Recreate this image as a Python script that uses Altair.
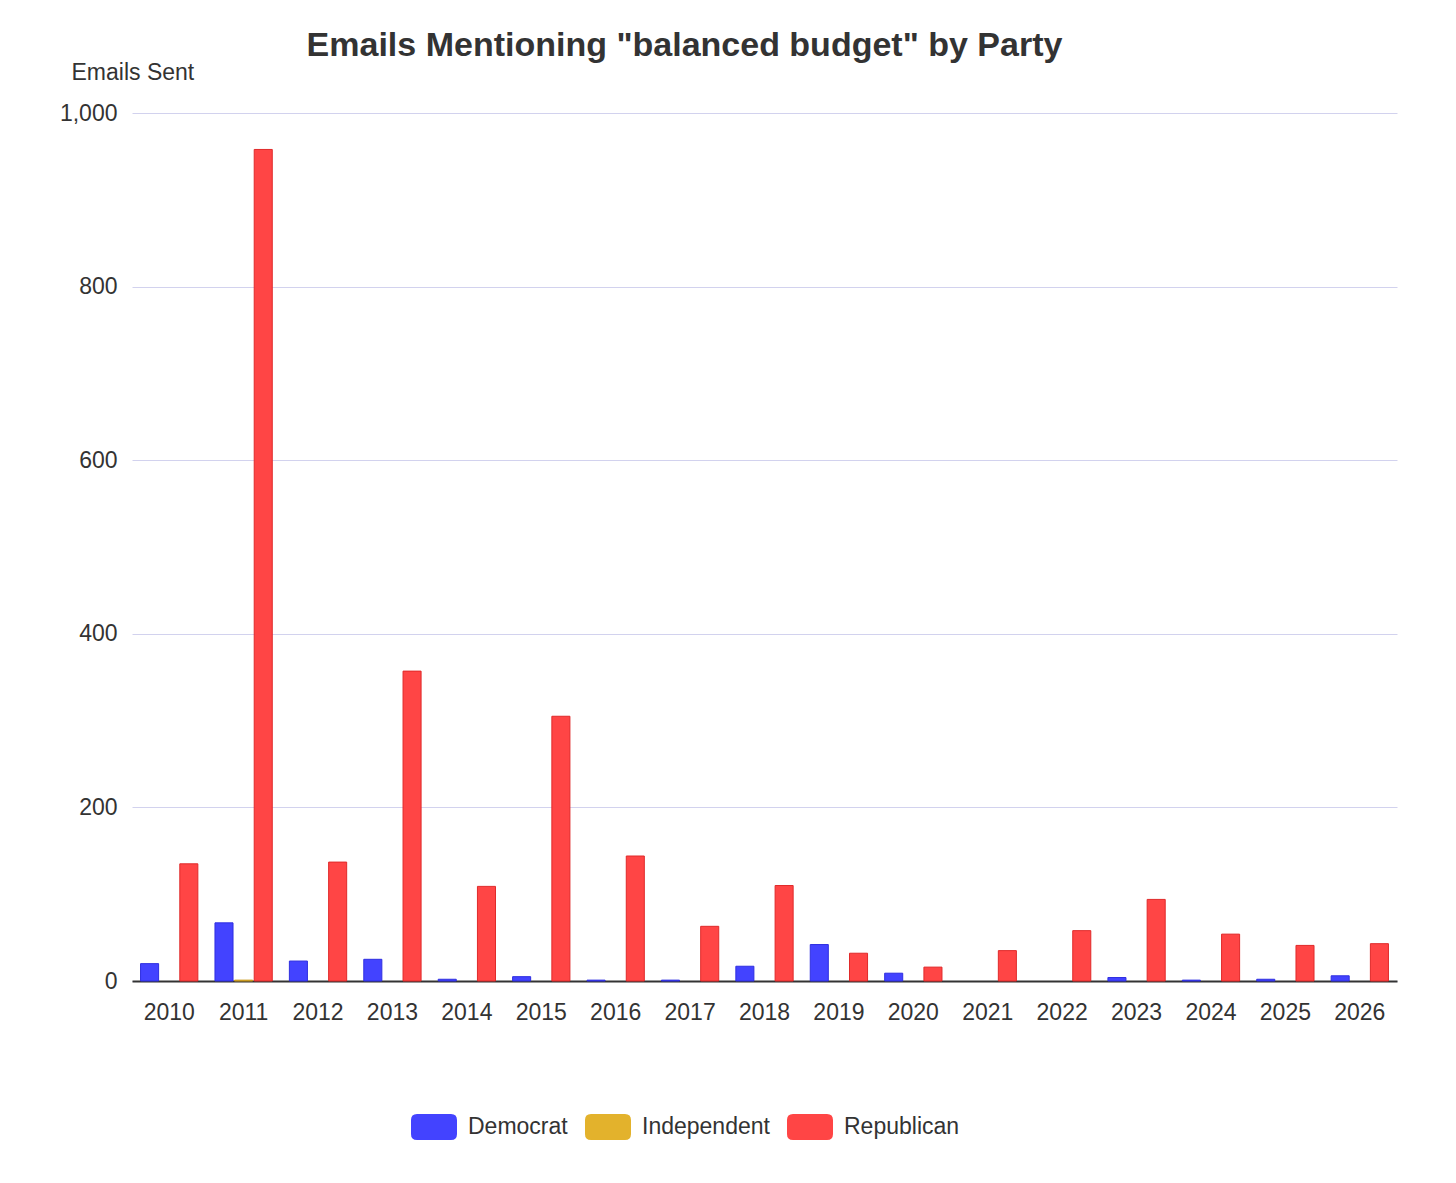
import altair as alt
import pandas as pd

years = [str(y) for y in range(2010, 2027)]
democrat = [20, 67, 23, 25, 2, 5, 1, 1, 17, 42, 9, 0, 0, 4, 1, 2, 6]
independent = [0, 1, 0, 0, 0, 0, 0, 0, 0, 0, 0, 0, 0, 0, 0, 0, 0]
republican = [135, 958, 137, 357, 109, 305, 144, 63, 110, 32, 16, 35, 58, 94, 54, 41, 43]

parties = ["Democrat", "Independent", "Republican"]
fills = ["#4343ff", "#e3b22c", "#ff4545"]
strokes = ["#2f2fe0", "#c8981c", "#e02a2a"]

rows = []
for i, y in enumerate(years):
    for p, vals in zip(parties, [democrat, independent, republican]):
        if vals[i] > 0:
            rows.append({"year": y, "party": p, "emails": vals[i]})
df = pd.DataFrame(rows)

FONT = "Liberation Sans"
TXT = "#333333"
FS = 23

rr_path = ("M -0.74 -0.565 L 0.74 -0.565 Q 1 -0.565 1 -0.3 L 1 0.3 Q 1 0.565 0.74 0.565 "
           "L -0.74 0.565 Q -1 0.565 -1 0.3 L -1 -0.3 Q -1 -0.565 -0.74 -0.565 Z")

chart = alt.Chart(df).mark_bar(strokeWidth=1).encode(
    x=alt.X("year:N", sort=years,
            scale=alt.Scale(domain=years, paddingInner=0.23, paddingOuter=0.115),
            axis=alt.Axis(title=None, labelAngle=0, ticks=False, domainColor="#333333",
                          domainWidth=2, labelFontSize=FS, labelColor=TXT, labelFont=FONT,
                          labelPadding=20)),
    xOffset=alt.XOffset("party:N", scale=alt.Scale(domain=parties, paddingInner=0.08, paddingOuter=0)),
    y=alt.Y("emails:Q", scale=alt.Scale(domain=[0, 1000]),
            axis=alt.Axis(title="Emails Sent", values=[0, 200, 400, 600, 800, 1000], format=",.0f",
                          domain=False, ticks=False, gridColor="#d2d2ee", gridWidth=1,
                          labelFontSize=FS, labelColor=TXT, labelFont=FONT, labelPadding=15,
                          titleAngle=0, titleAlign="left", titleBaseline="middle",
                          titleX=-61, titleY=-41, titleFontSize=FS, titleFontWeight="normal",
                          titleColor=TXT, titleFont=FONT)),
    color=alt.Color("party:N",
                    scale=alt.Scale(domain=parties, range=fills),
                    legend=alt.Legend(title=None, orient="none", legendX=279, legendY=991,
                                      direction="horizontal", symbolType=rr_path,
                                      symbolSize=2116, symbolStrokeWidth=0,
                                      labelFontSize=FS, labelColor=TXT, labelFont=FONT,
                                      labelOffset=11, columnPadding=17, padding=0)),
    stroke=alt.Stroke("party:N",
                      scale=alt.Scale(domain=parties, range=strokes), legend=None),
).properties(
    width=1265,
    height=868,
    title=alt.TitleParams('Emails Mentioning "balanced budget" by Party', anchor="middle",
                          frame="group", dx=-80, dy=12, fontSize=34, font=FONT, fontWeight="bold",
                          color=TXT, offset=10),
    autosize=alt.AutoSizeParams(type="none"),
    padding={"left": 124, "top": 105, "right": 40, "bottom": 190},
).configure_view(stroke=None)

chart.save("out.html", embed_options={"renderer": "svg", "actions": False})
